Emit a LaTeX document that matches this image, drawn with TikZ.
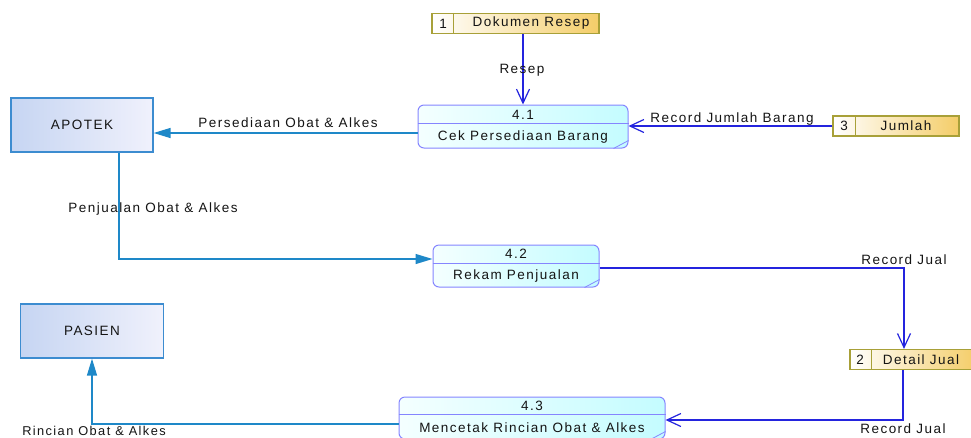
\documentclass[tikz,border=0pt]{standalone}
\usepackage{fontspec}
\usetikzlibrary{arrows.meta,calc}
\newfontfamily\dfdfont{Liberation Sans}[LetterSpace=11]
\definecolor{txt}{HTML}{141414}
\definecolor{flowdark}{HTML}{2424DE}
\definecolor{flowlight}{HTML}{1E88C8}
\definecolor{extborder}{HTML}{3C8CD0}
\definecolor{extA}{HTML}{C6D5F2}
\definecolor{extB}{HTML}{F0F1FC}
\definecolor{procborder}{HTML}{8585FF}
\definecolor{procA}{HTML}{F4FFFF}
\definecolor{procB}{HTML}{C4FCFF}
\definecolor{storeborder}{HTML}{A8A038}
\definecolor{storeB}{HTML}{F4CD68}
\tikzset{
  every node/.style={font=\dfdfont\fontsize{13.5}{15}\selectfont, text=txt, inner sep=0pt},
  extent/.style={draw=extborder, line width=1.2pt, left color=extA, right color=extB, minimum height=54pt},
  procbox/.style={draw=procborder, line width=1pt, rounded corners=6pt, left color=procA, right color=procB},
  procline/.style={draw=procborder, line width=0.8pt},
  storebox/.style={draw=storeborder, line width=1.2pt, left color=white, right color=storeB, minimum height=20pt},
  flowD/.style={draw=flowdark, line width=1.2pt, -{Straight Barb[length=14pt,width=13pt,line width=1.2pt]}},
  flowL/.style={draw=flowlight, line width=1.3pt, -{Triangle[length=17pt,width=10pt]}}
}
\begin{document}
\begin{tikzpicture}[x=1pt,y=-1pt]
\useasboundingbox (0,0) rectangle (971,437);

% external entities
\node[extent, minimum width=142pt] (apotek) at (82,125) {APOTEK};
\node[extent, minimum width=143pt] (pasien) at (92,331) {PASIEN};

% processes
\node[procbox, minimum width=210pt, minimum height=43pt] (p41) at (523,126.5) {};
\draw[procline] ([yshift=-19pt]p41.north west) -- ([yshift=-19pt]p41.north east);
\draw[procline] ([xshift=-15pt]p41.south east) -- ([yshift=8pt]p41.south east);
\node (p41n) at (523,115) {4.1};
\node (p41t) at (523,137) {Cek Persediaan Barang};

\node[procbox, minimum width=166pt, minimum height=42pt] (p42) at (516,266) {};
\draw[procline] ([yshift=-19pt]p42.north west) -- ([yshift=-19pt]p42.north east);
\draw[procline] ([xshift=-15pt]p42.south east) -- ([yshift=8pt]p42.south east);
\node (p42n) at (516,254) {4.2};
\node (p42t) at (516,276) {Rekam Penjualan};

\node[procbox, minimum width=266pt, minimum height=42pt] (p43) at (532,418) {};
\draw[procline] ([yshift=-18pt]p43.north west) -- ([yshift=-18pt]p43.north east);
\draw[procline] ([xshift=-15pt]p43.south east) -- ([yshift=8pt]p43.south east);
\node (p43n) at (532,406) {4.3};
\node (p43t) at (532,428) {Mencetak Rincian Obat \& Alkes};

% data stores
\node[storebox, minimum width=167pt] (d1) at (515.5,23.5) {};
\draw[storeborder, line width=1.2pt] ([xshift=22pt]d1.north west) -- ([xshift=22pt]d1.south west);
\node (d1n) at (443,23.5) {1};
\node (d1t) at (531,23.5) {Dokumen Resep};

\node[storebox, minimum width=126pt] (d3) at (896,126) {};
\draw[storeborder, line width=1.2pt] ([xshift=23pt]d3.north west) -- ([xshift=23pt]d3.south west);
\node (d3n) at (844,126) {3};
\node (d3t) at (906,126) {Jumlah};

\node[storebox, minimum width=126pt] (d2) at (913,359.5) {};
\draw[storeborder, line width=1.2pt] ([xshift=22pt]d2.north west) -- ([xshift=22pt]d2.south west);
\node (d2n) at (860,359.5) {2};
\node (d2t) at (921,359.5) {Detail Jual};

% data flows
\draw[flowD] (p41.north |- d1.south) -- (p41.north);
\node (lResep) at (522,70) {Resep};

\draw[flowD] (d3.west) -- (d3.west -| p41.east);
\node (lRJB) at (732,119) {Record Jumlah Barang};

\coordinate (a1) at ([yshift=-6.5pt]p41.west);
\draw[flowL] (a1) -- (a1 -| apotek.east);
\node (lPOA) at (288,123) {Persediaan Obat \& Alkes};

\coordinate (b0) at ([xshift=37pt]apotek.south);
\coordinate (b1) at ([yshift=7pt]p42.west);
\draw[flowL] (b0) |- (b1);
\node (lPjOA) at (153,209) {Penjualan Obat \& Alkes};

\coordinate (c0) at ([yshift=-2pt]p42.east);
\coordinate (c1) at ([xshift=-9pt]d2.north);
\draw[flowD] (c0) -| (c1);
\node (lRJ1) at (904,260) {Record Jual};

\coordinate (e0) at ([xshift=-10pt]d2.south);
\coordinate (e1) at ([yshift=-2pt]p43.east);
\draw[flowD] (e0) |- (e1);
\node (lRJ2) at (903,429) {Record Jual};

\coordinate (f0) at ([yshift=-6pt]p43.west);
\draw[flowL] (f0) -| (pasien.south);
\node[font=\dfdfont\fontsize{12.8}{14}\selectfont] (lROA) at (94,430.5) {Rincian Obat \& Alkes};
\end{tikzpicture}
\end{document}
